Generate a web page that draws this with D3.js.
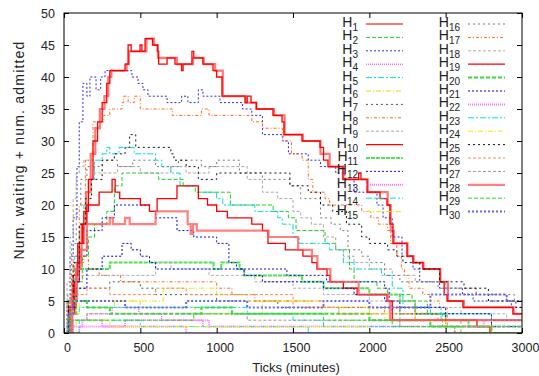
<!DOCTYPE html>
<html>
<head>
<meta charset="utf-8">
<script src="https://cdn.jsdelivr.net/npm/d3@7/dist/d3.min.js"></script>
<style>
  body { margin: 0; background: #fff; }
  text { font-family: "Liberation Sans", Arial, sans-serif; fill: #222; }
</style>
</head>
<body>
<svg id="chart" width="539" height="376"></svg>
<script>
// step series: [tick, count] pairs
const h1 = [[0,0],[55,5],[85,11],[115,17],[145,22],[175,28],[205,32],[235,35],[265,37],[290,40],[310,41],[410,42],[425,44],[540,46],[590,45],[615,43],[680,43],[740,42],[845,43],[915,42],[990,41],[1040,37],[1190,36],[1260,35],[1375,34],[1445,31],[1565,30],[1680,28],[1740,26],[1830,24],[1990,22],[2120,20],[2140,16],[2160,14],[2250,12],[2290,11],[2355,10],[2465,8],[2515,5],[2620,4],[2945,3]];
const h2 = [[0,0],[40,4],[80,8],[120,12],[160,15],[200,17],[280,19],[330,23],[380,25],[600,25],[620,24],[740,24],[780,23],[860,22],[1060,22],[1090,20],[1270,20],[1370,19],[1470,18],[1520,16],[1640,16],[1710,14],[1780,13],[1870,10],[1900,8],[2050,7],[2120,6],[2280,5],[2380,3],[2480,1],[2560,0]];
const h3 = [[0,0],[20,5],[40,12],[60,18],[85,26],[100,33],[124,39],[150,37],[170,40],[210,38],[240,40],[269,41],[445,40],[485,39],[517,38],[550,37],[675,36],[770,37],[812,36],[880,38],[910,37],[1022,36],[1170,35],[1230,34],[1300,31],[1434,30],[1470,28],[1600,27],[1680,26],[1780,25],[1840,24],[1900,22],[2050,20],[2090,18],[2150,15],[2214,12],[2286,10],[2330,8],[2460,7],[2610,6],[2680,5],[2930,4]];
const h4 = [[0,0],[60,2],[150,3],[315,4],[490,3],[640,2],[910,1],[1500,0]];
const h5 = [[0,0],[40,6],[70,12],[100,16],[130,20],[160,24],[200,27],[250,28],[280,29],[300,28],[360,29],[460,28],[600,27],[640,26],[700,25],[760,23],[880,22],[1000,21],[1040,20],[1250,19],[1400,18],[1430,17],[1500,15],[1540,14],[1740,13],[1830,11],[1900,10],[2080,9],[2150,7],[2220,4],[2470,2]];
const h6 = [[0,0],[30,3],[60,5],[150,4],[330,5],[500,4],[860,3],[1100,3],[1300,5],[1600,4],[1800,3],[2100,2],[2500,1],[2800,0]];
const h7 = [[0,0],[40,4],[80,7],[300,8],[500,7],[600,6],[1000,5],[1400,4],[2200,3],[2500,2],[2800,1]];
const h8 = [[0,0],[30,5],[60,12],[100,20],[140,27],[190,33],[260,34],[300,35],[380,36],[390,37],[420,36],[460,37],[500,35],[710,34],[900,35],[950,34],[1230,33],[1300,32],[1430,30],[1490,28],[1560,27],[1600,24],[1630,22],[1710,21],[1740,20],[1950,19],[2010,18],[2060,17],[2120,16],[2140,14],[2180,12],[2210,10],[2230,9],[2260,7],[2350,6],[2400,5],[2460,4],[2510,1],[2560,0]];
const h9 = [[0,0],[20,8],[40,15],[60,21],[80,25],[100,26],[130,27],[200,25],[350,26],[500,25],[700,26],[800,25],[950,26],[1100,26],[1200,24],[1300,22],[1400,21],[1500,19],[1550,18],[1620,17],[1700,15],[1780,13],[1830,12],[1900,11],[2000,10],[2150,9],[2300,8],[2500,7],[2700,6],[2900,5]];
const h10 = [[0,0],[40,3],[70,8],[100,14],[130,19],[160,24],[190,30],[220,33],[250,36],[280,39],[300,41],[400,42],[420,45],[440,44],[498,45],[510,44],[531,46],[580,45],[612,44],[620,42],[675,43],[727,42],[770,41],[780,42],[838,44],[850,43],[910,42],[976,41],[1000,40],[1035,37],[1186,36],[1200,37],[1225,36],[1260,35],[1369,34],[1428,33],[1441,31],[1559,30],[1677,29],[1700,27],[1729,26],[1827,24],[1930,25],[1945,24],[1985,22],[2070,21],[2116,20],[2135,17],[2155,14],[2247,12],[2286,11],[2351,10],[2463,8],[2490,6],[2509,5],[2613,4],[2941,3]];
const h11 = [[0,0],[40,5],[80,10],[300,11],[900,11],[980,10],[1030,11],[1150,10],[1180,9],[1480,9],[1560,8],[1700,7],[2000,6],[2200,5],[2300,3],[2500,2],[2650,1]];
const h12 = [[0,0],[30,4],[60,8],[100,12],[150,16],[250,18],[330,20],[500,20],[560,19],[600,18],[740,16],[850,15],[1000,14],[1080,11],[1130,10],[1460,9],[1720,8],[2100,7],[2130,5],[2150,3],[2500,2],[2800,1]];
const h13 = [[0,0],[100,1],[400,2],[950,1],[2750,2]];
const h14 = [[0,0],[50,3],[100,4],[700,4],[1200,3],[1500,2],[1700,1],[2000,1],[2200,4],[2400,3],[2800,2]];
const h15 = [[0,0],[50,3],[100,5],[650,7],[900,7],[1000,6],[1200,5],[1500,5],[1700,4],[2000,3],[2300,2]];
const h16 = [[0,0],[25,6],[50,14],[80,20],[110,24],[150,26],[250,27],[350,26],[450,27],[600,26],[750,27],[900,26],[1000,27],[1150,25],[1300,24],[1480,23],[1550,21],[1680,18],[1750,17],[1810,16],[1860,13],[1950,12],[2000,11],[2100,9],[2200,8],[2450,7],[2700,6],[2950,5]];
const h17 = [[0,0],[25,5],[50,9],[70,11],[130,12],[160,10],[230,9],[370,8],[940,8],[1000,7],[1100,6],[1250,5],[1650,5],[1700,4],[1900,4],[2200,3],[2450,2],[2500,0]];
const h18 = [[0,0],[40,5],[80,9],[300,9],[600,11],[700,10],[950,9],[1250,8],[1500,7],[1700,6],[2000,5],[2300,4],[2600,3],[2900,2]];
const h19 = [[0,0],[30,4],[60,9],[90,14],[120,17],[150,20],[230,22],[315,24],[335,22],[365,21],[500,20],[560,19],[610,21],[740,23],[880,21],[940,20],[1000,19],[1070,18],[1230,17],[1300,16],[1336,14],[1450,13],[1565,12],[1624,11],[1657,10],[1723,9],[1742,8],[1830,7],[1920,6],[2116,5],[2150,2],[2705,1],[2790,0]];
const h20 = [[0,0],[30,3],[80,5],[150,4],[300,3],[900,4],[1100,3],[1700,3],[2000,2],[2400,1],[2800,0]];
const h21 = [[0,0],[40,4],[80,7],[150,10],[250,12],[380,14],[440,13],[500,12],[560,11],[600,10],[1180,9],[1300,8],[1700,7],[1900,6],[2100,5],[2200,4],[2500,3],[2800,2]];
const h22 = [[0,0],[50,1],[120,2],[250,1],[800,0]];
const h23 = [[0,0],[100,2],[500,1],[1000,1],[1600,0]];
const h24 = [[0,0],[80,2],[300,1],[1500,1],[2000,0]];
const h25 = [[0,0],[30,5],[60,11],[100,17],[140,21],[180,24],[250,27],[330,28],[400,29],[430,31],[470,29],[700,28],[720,27],[800,26],[880,24],[1000,25],[1480,23],[1600,22],[1680,20],[1760,19],[1850,17],[1950,15],[2000,14],[2120,13],[2180,12],[2220,11],[2330,10],[2460,8],[2620,7],[2780,5],[2960,4]];
const h26 = [[0,0],[40,3],[80,6],[150,7],[300,6],[600,7],[800,6],[1200,6],[1500,4],[1800,3],[2100,4],[2300,2],[2600,1],[2800,0]];
const h27 = [[0,0],[50,2],[150,3],[700,3],[1200,2],[2200,1]];
const h28 = [[0,0],[50,6],[80,10],[110,13],[150,17],[300,18],[320,17],[400,18],[430,17],[600,19],[790,19],[810,17],[830,15.5],[845,17],[870,16],[1340,15],[1533,13],[1624,12],[1660,10],[1745,8],[1930,6],[2120,5],[2135,2]];
const h29 = [[0,0],[40,2],[300,2],[850,3],[1650,3],[1700,2],[2150,1],[2500,1],[2600,0]];
const h30 = [[0,0],[30,3],[60,5],[400,4],[800,5],[1200,4],[1700,5],[2000,4],[2400,6],[2900,5]];

const seriesData = [h1,h2,h3,h4,h5,h6,h7,h8,h9,h10,h11,h12,h13,h14,h15,h16,h17,h18,h19,h20,h21,h22,h23,h24,h25,h26,h27,h28,h29,h30];
const seriesNames = d3.range(1, 31).map(i => 'H' + i);
const xTicks = [0, 500, 1000, 1500, 2000, 2500, 3000];
const yTicks = [0, 5, 10, 15, 20, 25, 30, 35, 40, 45, 50];

// gnuplot-like line styles, one per series
const colors = ['#ff4a4a','#22cc22','#2a2aee','#ff22ff','#00dddd','#e0e000','#555555','#ff6a1a','#a8a8a8',
                '#ff0000','#55e055','#1010dd','#ff77ff','#00dddd','#e8e800','#777777','#ff6a1a','#b0b0b0',
                '#ff0000','#33dd33','#0000dd','#ff77ff','#00e0e0','#eeee00','#111111','#ff8855','#999999',
                '#ff5555','#22dd22','#6666ee'];
const dashes = ['none','4,2','2,2','1,1','6,2,2,2','5,2,1,2','2,3','3,2,1,2','3,2',
                'none','4,1','2,2','1,1','6,2,2,2','5,2,1,2','2,3','3,2,1,2','3,2',
                'none','4,2','2,2','1,1','6,2,2,2','5,2,1,2','2,3','3,2','3,2',
                'none','4,2','2,2'];
const widths = [2.2,1,1,1,1,1,1,1,1, 1.3,2,1,2,1,1,1,1,1, 1.3,2,1,2,1,1,1,1,1, 2.2,1,2];

const margin = {left: 64, right: 17, top: 13, bottom: 43};
const W = 539, H = 376;
const svg = d3.select('#chart');
const x = d3.scaleLinear().domain([0, 3000]).range([margin.left, W - margin.right]);
const y = d3.scaleLinear().domain([0, 50]).range([H - margin.bottom, margin.top]);

svg.append('defs').append('clipPath').attr('id', 'plotClip')
  .append('rect')
  .attr('x', x(0)).attr('y', y(50))
  .attr('width', x(3000) - x(0)).attr('height', y(0) - y(50));

const line = d3.line()
  .x(d => x(d[0]))
  .y(d => y(d[1]))
  .curve(d3.curveStepAfter);

const lines = svg.append('g').attr('clip-path', 'url(#plotClip)');
seriesData.forEach((s, i) => {
  const pts = s.concat([[3000, s[s.length - 1][1]]]);
  lines.append('path')
    .attr('d', line(pts))
    .attr('fill', 'none')
    .attr('stroke', colors[i])
    .attr('stroke-width', widths[i])
    .attr('stroke-opacity', widths[i] > 2 ? 0.75 : 1)
    .attr('stroke-dasharray', dashes[i]);
});

// axes with inward ticks on all four sides
const axisStyle = g => {
  g.select('.domain').remove();
  g.selectAll('.tick line').attr('stroke', '#000');
  g.selectAll('text').attr('font-size', '12.5px').attr('fill', '#222')
    .style('font-family', '"Liberation Sans", Arial, sans-serif');
};
svg.append('g')
  .attr('transform', `translate(0,${y(0)})`)
  .call(d3.axisBottom(x).tickValues(xTicks).tickSize(-5).tickPadding(10).tickFormat(d3.format('d')))
  .call(axisStyle)
  .call(g => g.selectAll('text').attr('dx', 3));
svg.append('g')
  .attr('transform', `translate(0,${y(50)})`)
  .call(d3.axisTop(x).tickValues(xTicks).tickSize(-5).tickFormat(''))
  .call(axisStyle);
svg.append('g')
  .attr('transform', `translate(${x(0)},0)`)
  .call(d3.axisLeft(y).tickValues(yTicks).tickSize(-5).tickPadding(9))
  .call(axisStyle);
svg.append('g')
  .attr('transform', `translate(${x(3000)},0)`)
  .call(d3.axisRight(y).tickValues(yTicks).tickSize(-5).tickFormat(''))
  .call(axisStyle);

svg.append('rect')
  .attr('x', x(0)).attr('y', y(50))
  .attr('width', x(3000) - x(0)).attr('height', y(0) - y(50))
  .attr('fill', 'none').attr('stroke', '#000').attr('stroke-width', 1);

svg.append('text')
  .attr('x', (x(0) + x(3000)) / 2 + 3).attr('y', 372)
  .attr('text-anchor', 'middle').attr('font-size', '13px')
  .text('Ticks (minutes)');
svg.append('text')
  .attr('transform', `translate(24,${150}) rotate(-90)`)
  .attr('text-anchor', 'middle').attr('font-size', '14px')
  .attr('letter-spacing', '1.2px')
  .text('Num. waiting + num. admitted');

// legend, two columns of 15
const legend = svg.append('g');
seriesNames.forEach((name, i) => {
  const col = Math.floor(i / 15), row = i % 15;
  const textEnd = col === 0 ? 358 : 460;
  const ly = 24 + row * 13.4;
  const t = legend.append('text')
    .attr('x', textEnd).attr('y', ly + 3)
    .attr('text-anchor', 'end').attr('font-size', '14px');
  t.append('tspan').text('H');
  t.append('tspan').attr('font-size', '10px').attr('dy', 4).text(name.slice(1));
  legend.append('line')
    .attr('x1', textEnd + 8).attr('x2', textEnd + 45)
    .attr('y1', ly).attr('y2', ly)
    .attr('stroke', colors[i])
    .attr('stroke-width', widths[i])
    .attr('stroke-opacity', widths[i] > 2 ? 0.75 : 1)
    .attr('stroke-dasharray', dashes[i]);
});
</script>
</body>
</html>
